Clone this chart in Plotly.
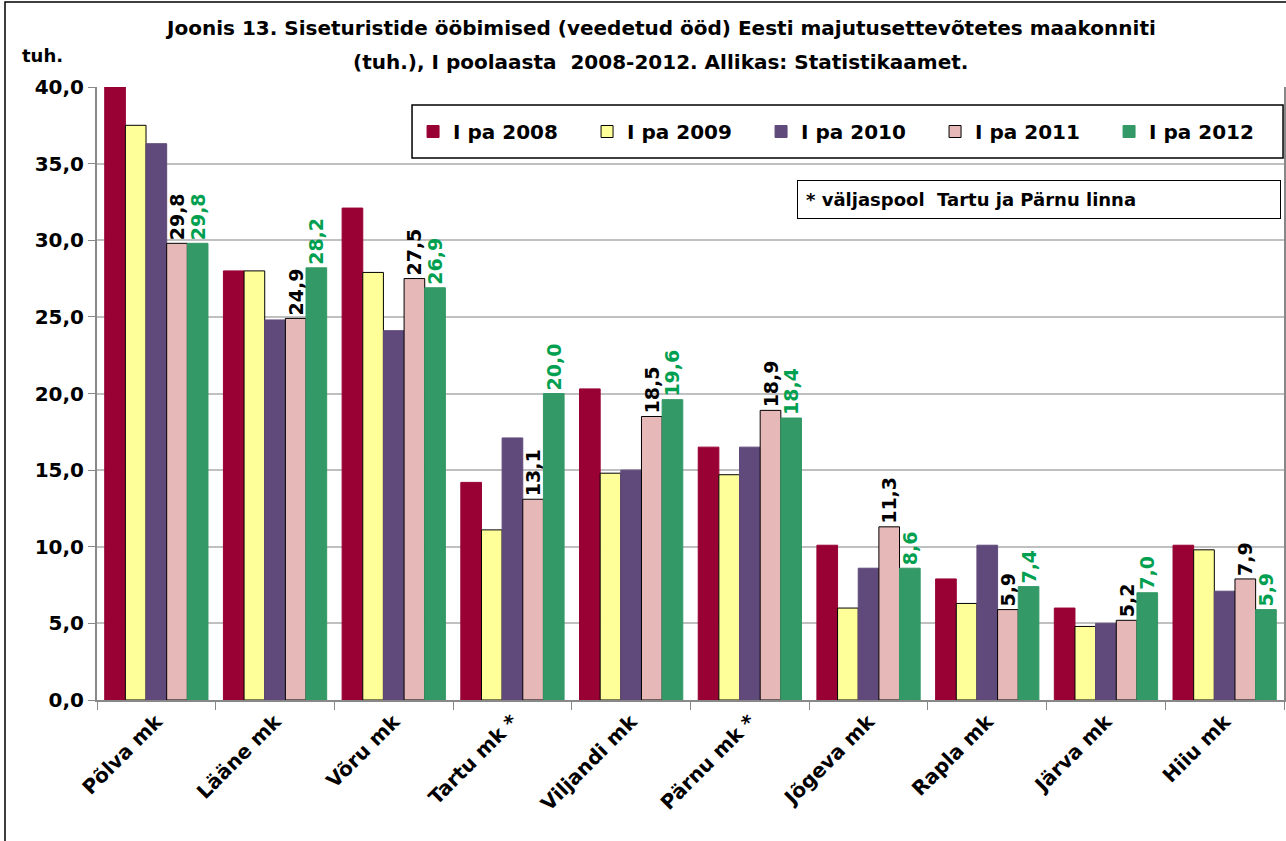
import plotly.graph_objects as go

# maakonnad (x-telg)
counties = ["Põlva mk", "Lääne mk", "Võru mk", "Tartu mk *", "Viljandi mk",
            "Pärnu mk *", "Jõgeva mk", "Rapla mk", "Järva mk", "Hiiu mk"]

# ööbimised, tuh.
pa2008 = [40.0, 28.0, 32.1, 14.2, 20.3, 16.5, 10.1, 7.9, 6.0, 10.1]
pa2009 = [37.5, 28.0, 27.9, 11.1, 14.8, 14.7, 6.0, 6.3, 4.8, 9.8]
pa2010 = [36.3, 24.8, 24.1, 17.1, 15.0, 16.5, 8.6, 10.1, 5.0, 7.1]
pa2011 = [29.8, 24.9, 27.5, 13.1, 18.5, 18.9, 11.3, 5.9, 5.2, 7.9]
pa2012 = [29.8, 28.2, 26.9, 20.0, 19.6, 18.4, 8.6, 7.4, 7.0, 5.9]

series_names = ["I pa 2008", "I pa 2009", "I pa 2010", "I pa 2011", "I pa 2012"]
y_ticks = [0, 5, 10, 15, 20, 25, 30, 35, 40]

FONT = "DejaVu Sans"


def fmt(v):
    # koma kümnenderaldajana
    return f"{v:.1f}".replace(".", ",")


series = [pa2008, pa2009, pa2010, pa2011, pa2012]
colors = ["#990033", "#FFFF99", "#604A7B", "#E6B9B8", "#339966"]
outlines = ["#990033", "#000000", "#604A7B", "#000000", "#339966"]
label_colors = {3: "black", 4: "#00A050"}

fig = go.Figure()
for i, (name, vals) in enumerate(zip(series_names, series)):
    bar = dict(
        x=counties, y=vals, name=name,
        marker=dict(color=colors[i], line=dict(color=outlines[i], width=1)),
    )
    # andmesildid ainult 2011 ja 2012 jaoks
    if i in label_colors:
        bar.update(text=[fmt(v) for v in vals], textposition="outside",
                   textangle=-90, constraintext="none",
                   textfont=dict(family=FONT, size=19, color=label_colors[i], weight="bold"))
    fig.add_trace(go.Bar(**bar, cliponaxis=False))

fig.update_layout(
    width=1286, height=841,
    margin=dict(l=97, r=2, t=87, b=141, autoexpand=False),
    paper_bgcolor="white", plot_bgcolor="white",
    barmode="group", bargap=0.13, bargroupgap=0,
    font=dict(family=FONT, size=19, color="black"),
    showlegend=True,
    legend=dict(
        orientation="h", x=0.9992, y=0.9274, xanchor="right", yanchor="middle",
        borderwidth=0, bgcolor="rgba(0,0,0,0)",
        font=dict(family=FONT, size=20, color="black", weight="bold"),
        entrywidth=129, itemwidth=30,
    ),
)

fig.update_yaxes(
    range=[0, 40], tickvals=y_ticks, ticktext=[fmt(v) for v in y_ticks],
    showgrid=True, gridcolor="#C0C0C0", gridwidth=1.5,
    showline=True, linecolor="#888888", linewidth=2, mirror=True,
    ticks="outside", ticklen=7, tickcolor="#888888",
    tickfont=dict(family=FONT, size=20, weight="bold"),
    zeroline=False, automargin=False,
)
fig.update_xaxes(
    tickangle=-45, tickson="boundaries", ticks="outside", ticklen=8,
    tickcolor="#888888", showline=True, linecolor="#888888", linewidth=2,
    tickfont=dict(family=FONT, size=20, weight="bold"), automargin=False,
)

# pealkiri kahel real
title_lines = [
    "Joonis 13. Siseturistide ööbimised (veedetud ööd) Eesti majutusettevõtetes maakonniti",
    "(tuh.), I poolaasta  2008-2012. Allikas: Statistikaamet.",
]
for line, ypos in zip(title_lines, [1.0962, 1.0408]):
    fig.add_annotation(
        text=line, xref="paper", yref="paper", x=0.4751, y=ypos,
        xanchor="center", yanchor="middle", showarrow=False,
        font=dict(family=FONT, size=20, weight="bold"),
    )

fig.add_annotation(
    text="tuh.", xref="paper", yref="paper", x=-0.0455, y=1.0522,
    xanchor="center", yanchor="middle", showarrow=False,
    font=dict(family=FONT, size=18, weight="bold"),
)
fig.add_annotation(
    text="* väljaspool  Tartu ja Pärnu linna", xref="paper", yref="paper",
    x=0.5897, y=0.8483, xanchor="left", yanchor="top", showarrow=False,
    align="left", bordercolor="black", borderwidth=1, borderpad=8,
    bgcolor="white", width=466,
    font=dict(family=FONT, size=18, weight="bold"),
)
# legendi raam (kõrgem kui plotly oma)
fig.add_shape(type="rect", xref="paper", yref="paper",
              x0=0.2654, x1=0.9992, y0=0.8842, y1=0.9706,
              line=dict(color="black", width=1.5))
# raam ümber pildi
fig.add_shape(type="rect", xref="paper", yref="paper",
              x0=-0.0775, x1=1.1, y0=-0.3, y1=1.1387,
              line=dict(color="black", width=1.5), layer="above")

# lehe vaikimisi ääris maha
fig.write_html("out.html", config={"displayModeBar": False},
               post_script="document.body.style.margin='0';")
